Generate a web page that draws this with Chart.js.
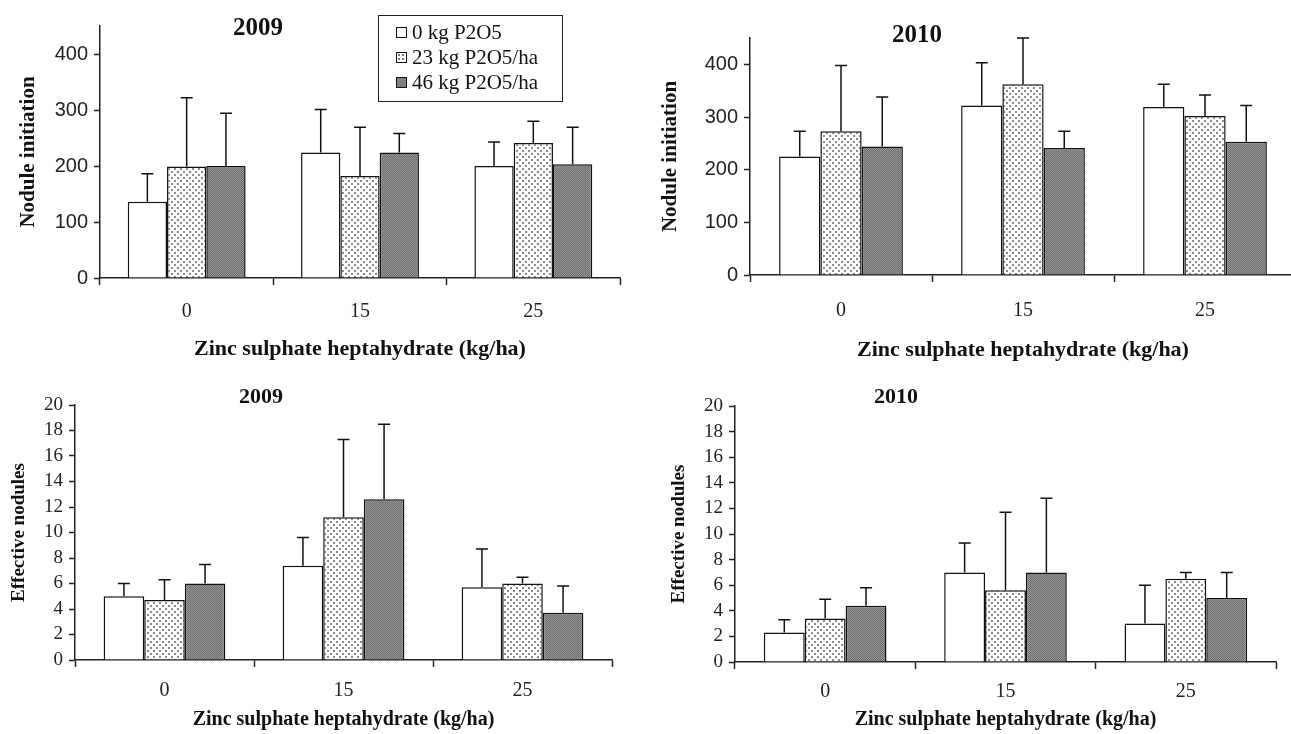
<!DOCTYPE html>
<html>
<head>
<meta charset="utf-8">
<script src="https://cdn.jsdelivr.net/npm/chart.js@4.4.0/dist/chart.umd.min.js"></script>
<style>
  body { margin: 0; width: 1291px; height: 734px; overflow: hidden; background: #fff; position: relative; }
  .panel { position: absolute; }
  .title { position: absolute; font: bold 25px "Liberation Serif", serif; color: #111; transform: translate(-50%, -50%); }
  .legend { position: absolute; left: 378px; top: 15px; width: 185px; height: 87px; border: 1.5px solid #222;
            font: 21px "Liberation Serif", serif; color: #111; box-sizing: border-box; padding: 4px 0 0 17px; }
  .legend div { height: 25px; line-height: 25px; white-space: nowrap; }
  .sw { display: inline-block; width: 9px; height: 9px; border: 1px solid #111; margin-right: 5px; vertical-align: 1px; }
</style>
</head>
<body>
<div class="panel" style="left:0;top:0"><canvas id="c1" width="640" height="365"></canvas></div>
<div class="panel" style="left:640px;top:0"><canvas id="c2" width="660" height="365"></canvas></div>
<div class="panel" style="left:0;top:365px"><canvas id="c3" width="640" height="369"></canvas></div>
<div class="panel" style="left:640px;top:365px"><canvas id="c4" width="651" height="369"></canvas></div>

<div class="title" style="left:258px;top:27px">2009</div>
<div class="title" style="left:917px;top:34px">2010</div>
<div class="title" style="left:261px;top:396px;font-size:22px">2009</div>
<div class="title" style="left:896px;top:396px;font-size:22px">2010</div>

<div class="legend">
  <div><span class="sw" style="background:#fff"></span>0 kg P2O5</div>
  <div><span class="sw" style="background:#fff radial-gradient(#777 35%, transparent 40%) 0 0/4px 4px"></span>23 kg P2O5/ha</div>
  <div><span class="sw" style="background:#808080"></span>46 kg P2O5/ha</div>
</div>

<script>
var doses = ['0', '15', '25'];
var seriesNames = ['0 kg P2O5', '23 kg P2O5/ha', '46 kg P2O5/ha'];

// nodule initiation, 2009 (means and SD)
var init2009P0 = [136, 224, 200];
var init2009P23 = [199, 182, 241];
var init2009P46 = [200, 224, 203];
var init2009SdP0 = [50, 77, 43];
var init2009SdP23 = [123, 87, 39];
var init2009SdP46 = [94, 34, 66];

// nodule initiation, 2010
var init2010P0 = [225, 322, 319];
var init2010P23 = [273, 362, 302];
var init2010P46 = [244, 241, 253];
var init2010SdP0 = [48, 81, 43];
var init2010SdP23 = [125, 88, 40];
var init2010SdP46 = [94, 32, 69];

// effective nodules, 2009
var eff2009P0 = [5.0, 7.4, 5.7];
var eff2009P23 = [4.7, 11.2, 6.0];
var eff2009P46 = [6.0, 12.6, 3.7];
var eff2009SdP0 = [1.0, 2.2, 3.0];
var eff2009SdP23 = [1.6, 6.1, 0.5];
var eff2009SdP46 = [1.5, 5.9, 2.1];

// effective nodules, 2010
var eff2010P0 = [2.3, 7.0, 3.0];
var eff2010P23 = [3.4, 5.6, 6.5];
var eff2010P46 = [4.4, 7.0, 5.0];
var eff2010SdP0 = [1.0, 2.3, 3.0];
var eff2010SdP23 = [1.5, 6.1, 0.5];
var eff2010SdP46 = [1.4, 5.8, 2.0];

var xTitle = 'Zinc sulphate heptahydrate (kg/ha)';

function dotPattern() {
  var c = document.createElement('canvas');
  c.width = 6; c.height = 6;
  var g = c.getContext('2d');
  g.fillStyle = '#fff'; g.fillRect(0, 0, 6, 6);
  g.fillStyle = '#8c8c8c';
  g.fillRect(0, 0, 2, 2); g.fillRect(3, 3, 2, 2);
  return g.createPattern(c, 'repeat');
}

function darkPattern() {
  var c = document.createElement('canvas');
  c.width = 2; c.height = 2;
  var g = c.getContext('2d');
  g.fillStyle = '#6c6c6c'; g.fillRect(0, 0, 2, 2);
  g.fillStyle = '#979797';
  g.fillRect(0, 0, 1, 1); g.fillRect(1, 1, 1, 1);
  return g.createPattern(c, 'repeat');
}

var fills = ['#ffffff', dotPattern(), darkPattern()];

// upward error bars from bar top to mean + SD
var errorBars = {
  id: 'errorBars',
  afterDatasetsDraw: function (chart) {
    var ctx = chart.ctx, y = chart.scales.y;
    chart.data.datasets.forEach(function (ds, i) {
      chart.getDatasetMeta(i).data.forEach(function (bar, j) {
        var top = y.getPixelForValue(ds.data[j] + ds.sd[j]);
        ctx.save();
        ctx.strokeStyle = '#111';
        ctx.lineWidth = 1.5;
        ctx.beginPath();
        ctx.moveTo(bar.x, bar.y);
        ctx.lineTo(bar.x, top);
        ctx.moveTo(bar.x - 6, top);
        ctx.lineTo(bar.x + 6, top);
        ctx.stroke();
        ctx.restore();
      });
    });
  }
};

function makeChart(id, values, sds, cfg) {
  var datasets = values.map(function (v, i) {
    return {
      label: seriesNames[i],
      data: v,
      sd: sds[i],
      backgroundColor: fills[i],
      borderColor: '#111',
      borderWidth: 1.5,
      categoryPercentage: 0.68,
      barPercentage: 1.0
    };
  });
  return new Chart(document.getElementById(id), {
    type: 'bar',
    data: { labels: doses, datasets: datasets },
    plugins: [errorBars],
    options: {
      responsive: false,
      animation: false,
      layout: { padding: { left: 0, right: cfg.padRight, top: cfg.padTop, bottom: 0 } },
      plugins: { legend: { display: false }, tooltip: { enabled: false } },
      scales: {
        x: {
          offset: true,
          grid: { offset: true, drawOnChartArea: false, tickLength: 7, tickColor: '#222', tickWidth: 1.5 },
          border: { color: '#222', width: 1.5 },
          ticks: { padding: cfg.xTickPad, color: '#222', font: { family: 'Liberation Serif', size: 20 } },
          title: { display: true, text: xTitle, color: '#111', padding: { top: 0, bottom: cfg.xTitlePad },
                   font: { family: 'Liberation Serif', size: cfg.xTitleSize, weight: 'bold' } },
          afterFit: function (s) { s.height = cfg.xHeight; }
        },
        y: {
          min: 0,
          max: cfg.yMax,
          ticks: { stepSize: cfg.yStep, autoSkip: false, padding: 6, color: '#222',
                   font: { family: cfg.yFont, size: cfg.yFontSize } },
          afterBuildTicks: function (s) {
            s.ticks = s.ticks.filter(function (t) { return Math.abs(t.value / cfg.yStep - Math.round(t.value / cfg.yStep)) < 1e-6; });
          },
          grid: { drawOnChartArea: false, tickLength: 6, tickColor: '#222', tickWidth: 1.5 },
          border: { color: '#222', width: 1.5 },
          title: { display: true, text: cfg.yTitle, color: '#111', padding: { top: cfg.yTitlePad, bottom: 0 },
                   font: { family: 'Liberation Serif', size: cfg.yTitleSize, weight: 'bold' } },
          afterFit: function (s) { s.width = cfg.yWidth; }
        }
      }
    }
  });
}

makeChart('c1', [init2009P0, init2009P23, init2009P46], [init2009SdP0, init2009SdP23, init2009SdP46], {
  yMax: 450, yStep: 100, yTitle: 'Nodule initiation', yFont: 'Liberation Sans', yFontSize: 20,
  yWidth: 100, xHeight: 87, padTop: 26, padRight: 20, xTickPad: 15, xTitlePad: 2,
  xTitleSize: 22, yTitleSize: 21, yTitlePad: 16
});

makeChart('c2', [init2010P0, init2010P23, init2010P46], [init2010SdP0, init2010SdP23, init2010SdP46], {
  yMax: 450, yStep: 100, yTitle: 'Nodule initiation', yFont: 'Liberation Sans', yFontSize: 20,
  yWidth: 110, xHeight: 90, padTop: 38, padRight: 4, xTickPad: 17, xTitlePad: 1,
  xTitleSize: 22, yTitleSize: 21, yTitlePad: 18
});

makeChart('c3', [eff2009P0, eff2009P23, eff2009P46], [eff2009SdP0, eff2009SdP23, eff2009SdP46], {
  yMax: 20, yStep: 2, yTitle: 'Effective nodules', yFont: 'Liberation Serif', yFontSize: 19,
  yWidth: 75, xHeight: 74, padTop: 40, padRight: 28, xTickPad: 12, xTitlePad: 2,
  xTitleSize: 20, yTitleSize: 19, yTitlePad: 8
});

makeChart('c4', [eff2010P0, eff2010P23, eff2010P46], [eff2010SdP0, eff2010SdP23, eff2010SdP46], {
  yMax: 20, yStep: 2, yTitle: 'Effective nodules', yFont: 'Liberation Serif', yFontSize: 19,
  yWidth: 95, xHeight: 72, padTop: 41, padRight: 15, xTickPad: 11, xTitlePad: 2,
  xTitleSize: 20, yTitleSize: 19, yTitlePad: 28
});
</script>
</body>
</html>
